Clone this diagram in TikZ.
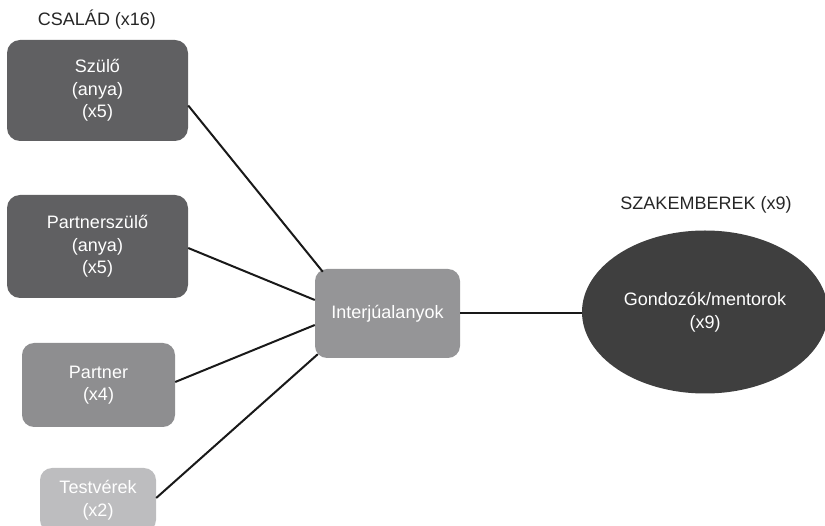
\documentclass[tikz,border=0pt]{standalone}
\usepackage{fontspec}
\setmainfont{Liberation Sans}
\usetikzlibrary{shapes.geometric,calc}

\definecolor{famdark}{HTML}{606062}
\definecolor{famgray}{HTML}{8E8E90}
\definecolor{famlight}{HTML}{BDBDBF}
\definecolor{hubgray}{HTML}{959597}
\definecolor{prodark}{HTML}{3F3F3F}

\begin{document}
\begin{tikzpicture}[
    x=1pt, y=-1pt,
    box/.style={rounded corners=13pt, inner sep=0pt, align=center, text=white, font=\fontsize{18}{22.5}\selectfont},
    link/.style={line width=2pt, draw=black!90},
    caption/.style={font=\fontsize{18}{22.5}\selectfont, text=black!85},
]
    \useasboundingbox (0,0) rectangle (825,526);

    % Group captions
    \node[caption] (family) at (97,20) {CSALÁD (x16)};
    \node[caption] (experts) at (706,205) {SZAKEMBEREK (x9)};

    % Family members
    \node[box, fill=famdark, minimum width=181pt, minimum height=101pt] (parent) at (97.5,90.5) {Szülő\\(anya)\\(x5)};
    \node[box, fill=famdark, minimum width=181pt, minimum height=103pt] (pparent) at (97.5,246.5) {Partnerszülő\\(anya)\\(x5)};
    \node[box, fill=famgray, minimum width=153pt, minimum height=84pt, rounded corners=12pt] (partner) at (98.5,385) {Partner\\(x4)};
    \node[box, fill=famlight, minimum width=116pt, minimum height=64pt, rounded corners=12pt] (sibling) at (98,500) {Testvérek\\(x2)};

    % Interviewees
    \node[box, fill=hubgray, minimum width=145pt, minimum height=89pt, rounded corners=12pt] (hub) at (387.5,313.5) {Interjúalanyok};

    % Professionals
    \node[ellipse, fill=prodark, text=white, inner sep=0pt, minimum width=246pt, minimum height=163pt,
          align=center, font=\fontsize{18}{22.5}\selectfont] (carer) at (705,312) {Gondozók/mentorok\\(x9)};

    % Links
    \draw[link] ($(parent.east)+(0,15)$) -- ($(hub.north west)+(8,3)$);
    \draw[link] ($(pparent.east)+(0,1.5)$) -- ($(hub.west)+(0,-13.5)$);
    \draw[link] ($(partner.east)+(0,-3)$) -- ($(hub.west)+(0,11.5)$);
    \draw[link] ($(sibling.east)+(0,-2)$) -- ($(hub.south west)+(3,-4)$);
    \draw[link] (hub.east) -- (hub.east -| carer.west);
\end{tikzpicture}
\end{document}
